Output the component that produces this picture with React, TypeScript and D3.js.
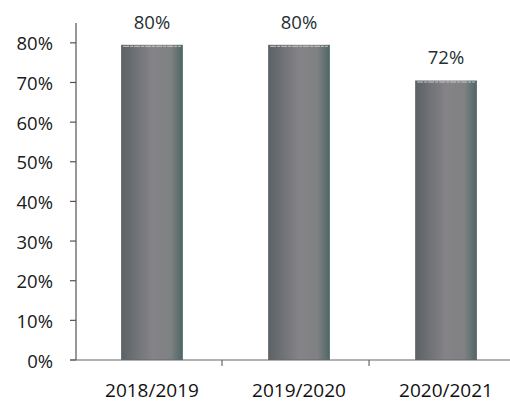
import React from 'react'
import * as d3 from 'd3'

const categories = ['2018/2019', '2019/2020', '2020/2021']
const values = [0.795, 0.795, 0.705]
const valueLabels = ['80%', '80%', '72%']
const yTicks = [0, 0.1, 0.2, 0.3, 0.4, 0.5, 0.6, 0.7, 0.8]

const W = 510
const H = 404
const FONT = '"Open Sans", sans-serif'

export default function App() {
  const y = d3.scaleLinear().domain([0, 0.85]).range([360, 23])
  const x = d3
    .scaleBand()
    .domain(categories)
    .range([77, 521])
    .paddingInner(0.58)
    .paddingOuter(0.3)

  const step = x.step()
  const start = x.range()[0]
  // tick marks between the categories
  const catTicks = [1, 2].map((i) => start + i * step - 2)

  return (
    <svg width={W} height={H} style={{ position: 'absolute', left: 0, top: 0, background: '#fff' }}>
      <defs>
        <linearGradient id="barGrad" x1="0%" y1="0%" x2="100%" y2="0%">
          <stop offset="0%" stopColor="#5b6266" />
          <stop offset="50%" stopColor="#858387" />
          <stop offset="80%" stopColor="#7f8183" />
          <stop offset="100%" stopColor="#4f6565" />
        </linearGradient>
      </defs>

      {/* y axis */}
      <line x1={76} x2={76} y1={23} y2={360} stroke="#5a5052" strokeWidth={1.2} />
      {yTicks.map((t) => (
        <g key={t}>
          <line x1={70} x2={76} y1={y(t)} y2={y(t)} stroke="#5a5052" strokeWidth={1.2} />
          <text
            x={53}
            y={y(t)}
            textAnchor="end"
            dominantBaseline="central"
            fontFamily={FONT}
            fontSize={18.5}
            fill="#172021"
          >
            {d3.format('.0%')(t)}
          </text>
        </g>
      ))}

      {/* bars */}
      {categories.map((c, i) => (
        <g key={c}>
          <rect
            x={x(c)}
            y={y(values[i])}
            width={x.bandwidth()}
            height={y(0) - y(values[i])}
            fill="url(#barGrad)"
          />
          <line
            x1={(x(c) as number) + 2}
            x2={(x(c) as number) + x.bandwidth() - 2}
            y1={y(values[i]) + 1.5}
            y2={y(values[i]) + 1.5}
            stroke="#c9c9c9"
            strokeWidth={1}
            strokeDasharray="6 1 3 1"
          />
          <text
            x={(x(c) as number) + x.bandwidth() / 2}
            y={y(values[i]) - 16}
            textAnchor="middle"
            fontFamily={FONT}
            fontSize={18.5}
            fill="#243032"
          >
            {valueLabels[i]}
          </text>
          <text
            x={(x(c) as number) + x.bandwidth() / 2}
            y={397}
            textAnchor="middle"
            fontFamily={FONT}
            fontSize={19}
            fill="#111"
          >
            {c}
          </text>
        </g>
      ))}

      {/* x axis */}
      <line x1={70} x2={W} y1={360} y2={360} stroke="#6a6466" strokeWidth={1.2} />
      {catTicks.map((t) => (
        <line key={t} x1={t} x2={t} y1={360} y2={366} stroke="#6a6466" strokeWidth={1.2} />
      ))}
    </svg>
  )
}
